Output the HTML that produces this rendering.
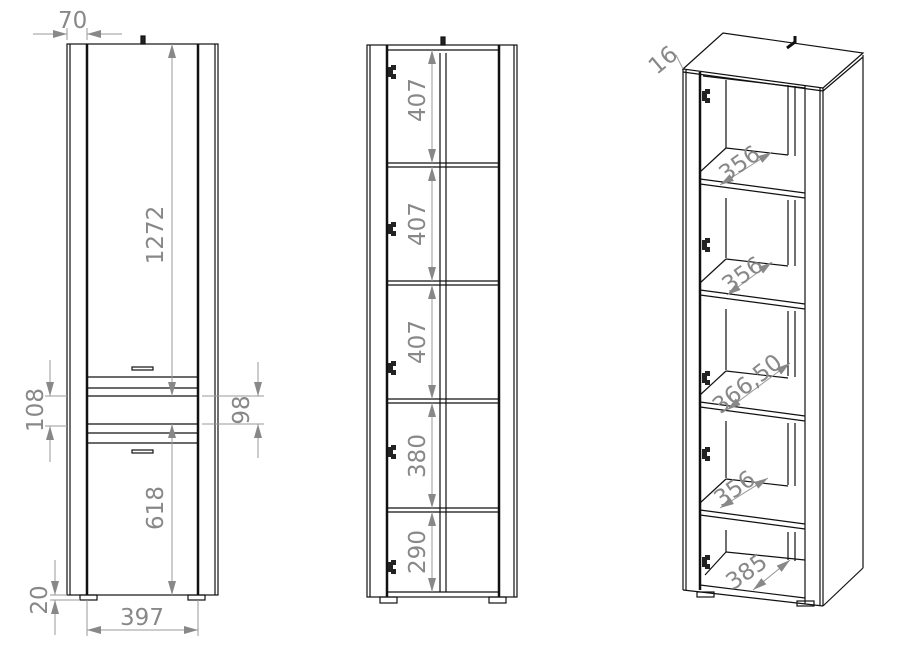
<!DOCTYPE html>
<html><head><meta charset="utf-8"><style>
html,body{margin:0;padding:0;background:#fff;}
svg{display:block}
text{font-family:"DejaVu Sans","Liberation Sans",sans-serif;font-weight:normal;fill:#888;font-size:23px}
</style></head><body>
<svg width="900" height="650" viewBox="0 0 900 650" xmlns="http://www.w3.org/2000/svg">
<defs>
<marker id="a" viewBox="0 0 14 8" refX="14" refY="4" markerWidth="14" markerHeight="8" orient="auto-start-reverse" markerUnits="userSpaceOnUse"><path d="M0,0L14,4L0,8z" fill="#888"/></marker>
<g id="hg"><rect x="0" y="-5" width="8" height="10" fill="#222"/><rect x="3" y="-7" width="5" height="14" fill="#222"/><rect x="5" y="-2" width="3" height="4" fill="#fff"/></g>
</defs>
<g fill="none" stroke="#111" stroke-width="1.2">
<rect x="67" y="44" width="151" height="551"/>
<line x1="70" y1="44" x2="70" y2="595"/>
<line x1="87" y1="44" x2="87" y2="595" stroke-width="2.5"/>
<line x1="198" y1="44" x2="198" y2="595" stroke-width="2.5"/>
<line x1="215" y1="44" x2="215" y2="595"/>
<line x1="87" y1="377" x2="198" y2="377"/>
<line x1="87" y1="388" x2="198" y2="388"/>
<line x1="87" y1="396" x2="198" y2="396"/>
<line x1="87" y1="424" x2="198" y2="424"/>
<line x1="87" y1="433" x2="198" y2="433"/>
<line x1="87" y1="443" x2="198" y2="443"/>
<rect x="132" y="367" width="21" height="3"/>
<rect x="132" y="450" width="21" height="3"/>
<rect x="80" y="595" width="17" height="5"/>
<rect x="188" y="595" width="17" height="5"/>
<rect x="141" y="36" width="4" height="8" fill="#222"/>
<rect x="367" y="45" width="150" height="552"/>
<line x1="370" y1="45" x2="370" y2="597"/>
<line x1="387" y1="45" x2="387" y2="597" stroke-width="2.5"/>
<line x1="499" y1="45" x2="499" y2="597" stroke-width="2.5"/>
<line x1="514" y1="45" x2="514" y2="597"/>
<line x1="387" y1="50" x2="499" y2="50"/>
<line x1="387" y1="592" x2="499" y2="592"/>
<line x1="440" y1="53" x2="440" y2="592"/>
<line x1="446" y1="53" x2="446" y2="592"/>
<line x1="387" y1="163" x2="499" y2="163"/><line x1="387" y1="167" x2="499" y2="167"/>
<line x1="387" y1="281" x2="499" y2="281"/><line x1="387" y1="285" x2="499" y2="285"/>
<line x1="387" y1="399" x2="499" y2="399"/><line x1="387" y1="403" x2="499" y2="403"/>
<line x1="387" y1="508" x2="499" y2="508"/><line x1="387" y1="512" x2="499" y2="512"/>
<rect x="380" y="597" width="17" height="6"/>
<rect x="489" y="597" width="17" height="6"/>
<rect x="441" y="37" width="4" height="8" fill="#222"/>
<path d="M683,69 L723,33 L863,53 L823,88 Z"/>
<line x1="683" y1="72" x2="823" y2="91"/>
<line x1="823" y1="91" x2="863" y2="57"/>
<line x1="683" y1="69" x2="683" y2="590"/>
<line x1="686" y1="70" x2="686" y2="590"/>
<line x1="700" y1="72" x2="700" y2="590" stroke-width="2.5"/>
<line x1="805" y1="86" x2="805" y2="604"/>
<line x1="820" y1="88" x2="820" y2="605"/>
<line x1="823" y1="88" x2="823" y2="606"/>
<line x1="863" y1="55" x2="863" y2="568"/>
<line x1="823" y1="606" x2="863" y2="568"/>
<line x1="683" y1="590" x2="823" y2="606"/>
<line x1="700" y1="585" x2="805" y2="598"/>
<line x1="703" y1="76" x2="805" y2="88"/>
<line x1="788" y1="85" x2="788" y2="155"/>
<line x1="795" y1="86" x2="795" y2="156"/>
<line x1="726" y1="80" x2="726" y2="148"/>
<g id="sh">
<line x1="700" y1="179" x2="805" y2="193"/>
<line x1="700" y1="184" x2="805" y2="198"/>
<line x1="700" y1="172" x2="726" y2="148"/>
<line x1="726" y1="148" x2="788" y2="155"/>
</g>
<use href="#sh" transform="translate(0,111)"/>
<use href="#sh" transform="translate(0,223)"/>
<use href="#sh" transform="translate(0,331)"/>
<line x1="726" y1="198" x2="726" y2="258"/><line x1="788" y1="200" x2="788" y2="265"/><line x1="795" y1="200" x2="795" y2="266"/>
<line x1="726" y1="309" x2="726" y2="370"/><line x1="788" y1="311" x2="788" y2="376"/><line x1="795" y1="311" x2="795" y2="377"/>
<line x1="726" y1="421" x2="726" y2="478"/><line x1="788" y1="423" x2="788" y2="485"/><line x1="795" y1="423" x2="795" y2="486"/>
<line x1="726" y1="530" x2="726" y2="552"/><line x1="788" y1="532" x2="788" y2="560"/><line x1="795" y1="532" x2="795" y2="561"/>
<line x1="705" y1="575" x2="726" y2="552"/><line x1="726" y1="552" x2="805" y2="560"/>
<rect x="697" y="592" width="17" height="5"/>
<rect x="797" y="601" width="17" height="5"/>
<path d="M787,48 L795,42 L795,36" stroke-width="3"/>
</g>
<g fill="#222">
<use href="#hg" x="388" y="72"/><use href="#hg" x="388" y="229"/><use href="#hg" x="388" y="368"/><use href="#hg" x="388" y="452"/><use href="#hg" x="388" y="567"/>
<use href="#hg" x="702" y="96"/><use href="#hg" x="702" y="245"/><use href="#hg" x="702" y="378"/><use href="#hg" x="702" y="454"/><use href="#hg" x="702" y="562"/>
</g>
<g stroke="#999" stroke-width="1" fill="none">
<line x1="33" y1="34" x2="67" y2="34" marker-end="url(#a)"/>
<line x1="122" y1="34" x2="87" y2="34" marker-end="url(#a)"/>
<line x1="67" y1="28" x2="67" y2="40"/><line x1="87" y1="28" x2="87" y2="40"/>
<line x1="172" y1="44" x2="172" y2="396" marker-start="url(#a)" marker-end="url(#a)"/>
<line x1="172" y1="424" x2="172" y2="595" marker-start="url(#a)" marker-end="url(#a)"/>
<line x1="50" y1="360" x2="50" y2="396" marker-end="url(#a)"/>
<line x1="50" y1="462" x2="50" y2="426" marker-end="url(#a)"/>
<line x1="45" y1="396" x2="67" y2="396"/><line x1="45" y1="426" x2="67" y2="426"/>
<line x1="258" y1="362" x2="258" y2="396" marker-end="url(#a)"/>
<line x1="258" y1="458" x2="258" y2="424" marker-end="url(#a)"/>
<line x1="202" y1="396" x2="264" y2="396"/><line x1="202" y1="424" x2="264" y2="424"/>
<line x1="55" y1="560" x2="55" y2="595" marker-end="url(#a)"/>
<line x1="55" y1="635" x2="55" y2="600" marker-end="url(#a)"/>
<line x1="50" y1="595" x2="67" y2="595"/><line x1="50" y1="600" x2="80" y2="600"/>
<line x1="87" y1="630" x2="198" y2="630" marker-start="url(#a)" marker-end="url(#a)"/>
<line x1="87" y1="600" x2="87" y2="636"/><line x1="198" y1="600" x2="198" y2="636"/>
<line x1="432" y1="50" x2="432" y2="163" marker-start="url(#a)" marker-end="url(#a)"/>
<line x1="432" y1="167" x2="432" y2="281" marker-start="url(#a)" marker-end="url(#a)"/>
<line x1="432" y1="285" x2="432" y2="399" marker-start="url(#a)" marker-end="url(#a)"/>
<line x1="432" y1="403" x2="432" y2="508" marker-start="url(#a)" marker-end="url(#a)"/>
<line x1="432" y1="512" x2="432" y2="592" marker-start="url(#a)" marker-end="url(#a)"/>
<line x1="676" y1="55" x2="683" y2="69" />
<line x1="720" y1="185" x2="772" y2="152" marker-start="url(#a)" marker-end="url(#a)"/>
<line x1="727" y1="295" x2="772" y2="262" marker-start="url(#a)" marker-end="url(#a)"/>
<line x1="727" y1="410" x2="790" y2="363" marker-start="url(#a)" marker-end="url(#a)"/>
<line x1="720" y1="508" x2="768" y2="478" marker-start="url(#a)" marker-end="url(#a)"/>
<line x1="753" y1="590" x2="790" y2="560" marker-start="url(#a)" marker-end="url(#a)"/>
</g>
<g>
<text x="58" y="28">70</text>
<text transform="translate(163,235) rotate(-90)" text-anchor="middle">1272</text>
<text transform="translate(163,508) rotate(-90)" text-anchor="middle">618</text>
<text transform="translate(43,410) rotate(-90)" text-anchor="middle">108</text>
<text transform="translate(249,410) rotate(-90)" text-anchor="middle">98</text>
<text transform="translate(47,600) rotate(-90)" text-anchor="middle">20</text>
<text x="142" y="625" text-anchor="middle">397</text>
<text transform="translate(425,100) rotate(-90)" text-anchor="middle">407</text>
<text transform="translate(425,224) rotate(-90)" text-anchor="middle">407</text>
<text transform="translate(425,342) rotate(-90)" text-anchor="middle">407</text>
<text transform="translate(425,456) rotate(-90)" text-anchor="middle">380</text>
<text transform="translate(425,552) rotate(-90)" text-anchor="middle">290</text>
<text transform="translate(668,66) rotate(-40)" text-anchor="middle">16</text>
<text transform="translate(744,170) rotate(-35)" text-anchor="middle">356</text>
<text transform="translate(747,281) rotate(-35)" text-anchor="middle">356</text>
<text transform="translate(752,390) rotate(-38)" text-anchor="middle">366,50</text>
<text transform="translate(739,495) rotate(-35)" text-anchor="middle">356</text>
<text transform="translate(751,578) rotate(-35)" text-anchor="middle">385</text>
</g>
</svg>
</body></html>
